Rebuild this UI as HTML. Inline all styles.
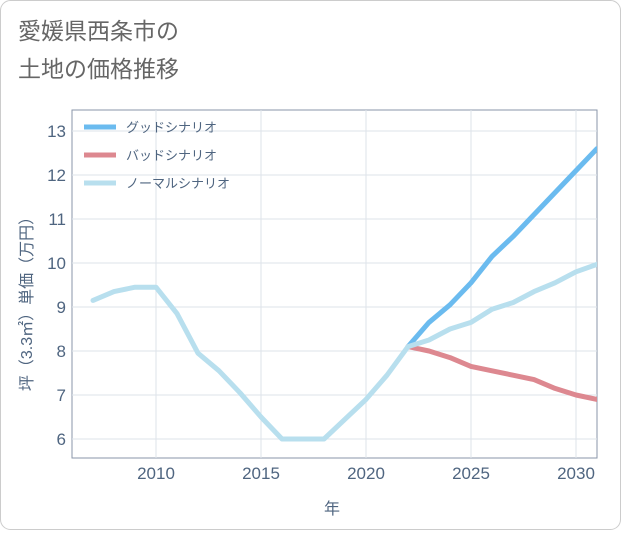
<!DOCTYPE html>
<html><head><meta charset="utf-8"><style>
body{margin:0;background:#fff;}
#wrap{position:relative;width:621px;height:530px;font-family:"Liberation Sans","Noto Sans CJK JP",sans-serif;}
</style></head><body>
<div id="wrap">
<svg id="chart" width="621" height="530" xmlns="http://www.w3.org/2000/svg">
<rect x="0.5" y="0.5" width="620" height="529" rx="10" fill="#fff" stroke="#ccc"/>
<text x="18" y="39" font-size="23" fill="#666" font-family="Liberation Sans, Noto Sans CJK JP, sans-serif">愛媛県西条市の</text>
<text x="18" y="77" font-size="23" fill="#666" font-family="Liberation Sans, Noto Sans CJK JP, sans-serif">土地の価格推移</text>
<rect x="72" y="110" width="525" height="348" fill="none" stroke="#8a96a8"/>
<g id="grid"></g><g id="axes"></g><g id="series"></g><g id="legend"></g>
<text x="332" y="514" font-size="16" fill="#4f6580" text-anchor="middle" font-family="Liberation Sans, Noto Sans CJK JP, sans-serif">年</text>
<text transform="translate(32,300) rotate(-90)" font-size="16" fill="#4f6580" text-anchor="middle" font-family="Liberation Sans, Noto Sans CJK JP, sans-serif">坪（3.3㎡）単価（万円）</text>
</svg>
</div>
<script>
const years=[2007,2008,2009,2010,2011,2012,2013,2014,2015,2016,2017,2018,2019,2020,2021,2022,2023,2024,2025,2026,2027,2028,2029,2030,2031];
const normalValues=[9.15,9.35,9.45,9.45,8.85,7.95,7.55,7.05,6.5,6.0,6.0,6.0,6.45,6.9,7.45,8.1,8.25,8.5,8.65,8.95,9.1,9.35,9.55,9.8,9.97];
const futureYears=[2022,2023,2024,2025,2026,2027,2028,2029,2030,2031];
const goodValues=[8.1,8.65,9.05,9.55,10.15,10.6,11.1,11.6,12.1,12.6];
const badValues=[8.1,8.0,7.85,7.65,7.55,7.45,7.35,7.15,7.0,6.9];
const xTicks=[2010,2015,2020,2025,2030];
const yTicks=[6,7,8,9,10,11,12,13];
const legendLabels=["グッドシナリオ","バッドシナリオ","ノーマルシナリオ"];
const NS="http://www.w3.org/2000/svg";
const X=y=>156+(y-2010)*21;
const Y=v=>439-(v-6)*44;
function mk(tag,attrs,parent){const e=document.createElementNS(NS,tag);for(const k in attrs)e.setAttribute(k,attrs[k]);document.getElementById(parent).appendChild(e);return e;}
xTicks.forEach(t=>{
 const l=mk('line',{x1:X(t),x2:X(t),y1:110,y2:458,stroke:'#dde3ea'},'grid');
 
 
 const tx=mk('text',{x:X(t),y:479,'font-size':17,fill:'#4f6580','text-anchor':'middle'},'axes');
 tx.textContent=t;
 
 
});
yTicks.forEach(t=>{
 const l=mk('line',{x1:72,x2:597,y1:Y(t),y2:Y(t),stroke:'#dde3ea'},'grid');
 
 
 const tx=mk('text',{x:66,y:Y(t)+6,'font-size':17,fill:'#4f6580','text-anchor':'end'},'axes');
 tx.textContent=t;
 
 
});
function line(xs,vs,color,name){
 const d=xs.map((x,i)=>(i?'L':'M')+X(x)+','+Y(vs[i])).join(' ');
 const p=mk('path',{d:d,fill:'none',stroke:color,'stroke-width':5,'stroke-linejoin':'round','stroke-linecap':'round','clip-path':'url(#clip)'},'series');
 
 
}
const defs=document.createElementNS(NS,'defs');defs.innerHTML='<clipPath id="clip"><rect x="72" y="110" width="525" height="348"/></clipPath>';
document.getElementById('chart').appendChild(defs);
line(futureYears,goodValues,'#6bbbef','good-scenario-line');
line(futureYears,badValues,'#dd8890','bad-scenario-line');
line(years,normalValues,'#b8dfee','normal-scenario-line');
const colors=['#6bbbef','#dd8890','#b8dfee'];
legendLabels.forEach((lab,i)=>{
 const y=127+i*28;
 const l=mk('line',{x1:84,x2:116,y1:y,y2:y,stroke:colors[i],'stroke-width':5},'legend');
 
 
 const t=mk('text',{x:126,y:y+5,'font-size':13,fill:'#4f6580'},'legend');
 t.textContent=lab;
 
 
});
</script>
</body></html>
